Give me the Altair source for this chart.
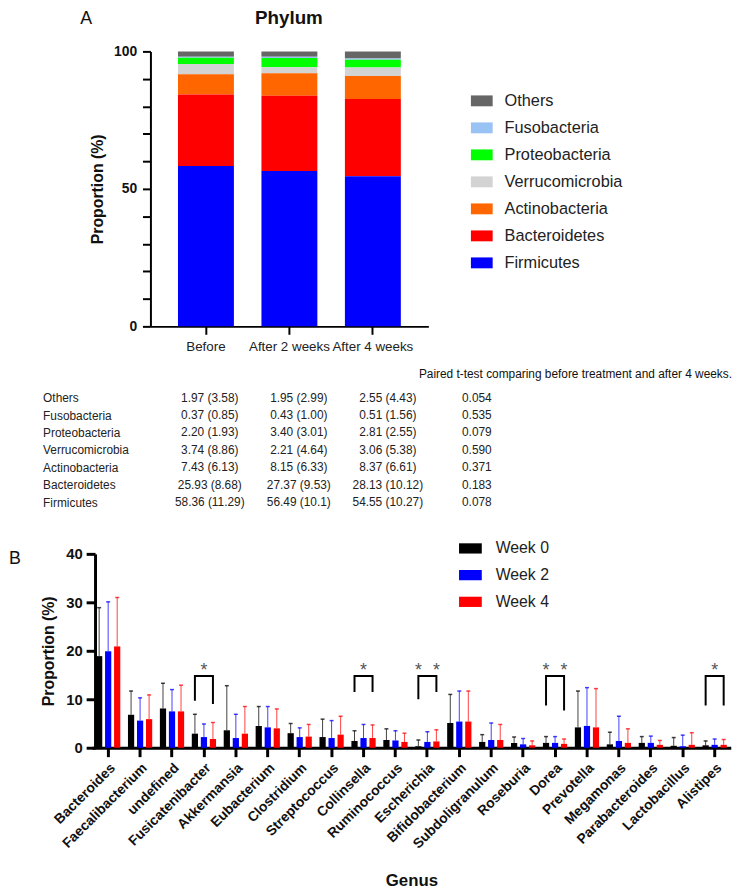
import altair as alt
import pandas as pd

FONT = "Liberation Sans, Arial, Helvetica, sans-serif"

# ---------------- Panel A data ----------------
phyla = ["Others", "Fusobacteria", "Proteobacteria", "Verrucomicrobia",
         "Actinobacteria", "Bacteroidetes", "Firmicutes"]
phylum_colors = ["#666666", "#99C2F5", "#00FF00", "#D3D3D3",
                 "#FF6600", "#FF0000", "#0000FF"]
timepoints = ["Before", "After 2 weeks", "After 4 weeks"]
mean_before = [1.97, 0.37, 2.20, 3.74, 7.43, 25.93, 58.36]
sd_before = ["3.58", "0.85", "1.93", "8.86", "6.13", "8.68", "11.29"]
mean_2w = [1.95, 0.43, 3.40, 2.21, 8.15, 27.37, 56.49]
sd_2w = ["2.99", "1.00", "3.01", "4.64", "6.33", "9.53", "10.1"]
mean_4w = [2.55, 0.51, 2.81, 3.06, 8.37, 28.13, 54.55]
sd_4w = ["4.43", "1.56", "2.55", "5.38", "6.61", "10.12", "10.27"]
p_values = ["0.054", "0.535", "0.079", "0.590", "0.371", "0.183", "0.078"]
table_note = "Paired t-test  comparing before treatment  and after 4 weeks."

# ---------------- Panel B data ----------------
genera = ["Bacteroides", "Faecalibacterium", "undefined", "Fusicatenibacter",
          "Akkermansia", "Eubacterium", "Clostridium", "Streptococcus",
          "Collinsella", "Ruminococcus", "Escherichia", "Bifidobacterium",
          "Subdoligranulum", "Roseburia", "Dorea", "Prevotella", "Megamonas",
          "Parabacteroides", "Lactobacillus", "Alistipes"]
weeks = ["Week 0", "Week 2", "Week 4"]
week_colors = ["#000000", "#0000FF", "#FF0000"]
w0_mean = [18.9, 6.8, 8.1, 2.9, 3.6, 4.5, 3.0, 2.2, 1.4, 1.6, 0.3, 5.1, 1.2, 1.0, 1.0, 4.2, 0.7, 1.0, 0.4, 0.5]
w0_sd = [10.0, 4.9, 5.2, 4.0, 9.2, 4.0, 2.0, 3.7, 2.1, 2.3, 1.3, 5.9, 1.5, 1.2, 1.3, 7.5, 2.5, 1.3, 1.7, 0.9]
w2_mean = [19.9, 5.6, 7.5, 2.2, 2.0, 4.2, 2.2, 2.0, 2.0, 1.5, 1.2, 5.4, 1.6, 0.7, 1.0, 4.5, 1.4, 1.0, 0.3, 0.6]
w2_sd = [10.2, 4.7, 4.5, 2.7, 4.9, 4.3, 1.9, 3.6, 2.8, 2.0, 2.1, 6.3, 3.5, 1.2, 1.3, 7.9, 5.1, 1.4, 2.3, 1.2]
w4_mean = [20.9, 5.9, 7.5, 1.8, 2.9, 4.0, 2.3, 2.7, 2.0, 1.2, 1.3, 5.4, 1.6, 0.5, 0.8, 4.2, 1.0, 0.6, 0.6, 0.6]
w4_sd = [10.1, 5.0, 5.4, 3.4, 5.6, 4.0, 2.5, 3.8, 2.7, 1.8, 2.4, 6.3, 3.2, 0.9, 1.0, 8.0, 2.9, 0.9, 2.5, 1.1]

sig_genera = ["Fusicatenibacter", "Collinsella", "Escherichia", "Dorea", "Alistipes"]
sig_double = [False, False, True, True, False]
bracket_top = [14.8, 14.8, 14.8, 14.8, 14.8]
bracket_left_low = [9.7, 11.5, 10.0, 8.7, 8.7]
bracket_right_low = [9.0, 11.5, 11.5, 7.7, 8.7]

# ---------------- tables ----------------
means = [mean_before, mean_2w, mean_4w]
sds = [sd_before, sd_2w, sd_4w]
n_ph = len(phyla)

df_phy = pd.DataFrame([
    {"time": t, "phylum": phyla[i], "value": means[k][i], "rank": n_ph - i}
    for k, t in enumerate(timepoints) for i in range(n_ph)
])

cols = ["c1", "c2", "c3", "p"]
tab_rows = []
for i in range(n_ph):
    for k in range(3):
        tab_rows.append({"phylum": phyla[i], "col": cols[k],
                         "text": f"{means[k][i]:.2f} ({sds[k][i]})"})
    tab_rows.append({"phylum": phyla[i], "col": "p", "text": p_values[i]})
df_tab = pd.DataFrame(tab_rows)

g_means = [w0_mean, w2_mean, w4_mean]
g_sds = [w0_sd, w2_sd, w4_sd]
df_gen = pd.DataFrame([
    {"genus": g, "week": weeks[k], "mean": g_means[k][j],
     "upper": round(g_means[k][j] + g_sds[k][j], 2)}
    for j, g in enumerate(genera) for k in range(3)
])

br_rows = []
star_rows = []
for b, g in enumerate(sig_genera):
    pts = [("Week 0", bracket_left_low[b]), ("Week 0", bracket_top[b]),
           ("Week 4", bracket_top[b]), ("Week 4", bracket_right_low[b])]
    for o, (w, v) in enumerate(pts):
        br_rows.append({"genus": g, "week": w, "y": v, "order": o, "id": g})
    if sig_double[b]:
        star_rows.append({"genus": g, "week": "Week 0", "y": bracket_top[b], "star": "*"})
        star_rows.append({"genus": g, "week": "Week 4", "y": bracket_top[b], "star": "*"})
    else:
        star_rows.append({"genus": g, "week": "Week 2", "y": bracket_top[b], "star": "*"})
df_br = pd.DataFrame(br_rows)
df_star = pd.DataFrame(star_rows)

# ---------------- Panel A chart ----------------
rect_path_a = "M-1,-0.5H1V0.5H-1Z"
chartA = alt.Chart(df_phy).mark_bar(strokeWidth=0).encode(
    x=alt.X("time:N", sort=timepoints,
            scale=alt.Scale(range=[144, 425], paddingInner=0.33, paddingOuter=0.33),
            axis=alt.Axis(orient="bottom", offset=-569, title=None, labelAngle=0,
                          labelFont=FONT, labelFontSize=13.5, labelColor="#222",
                          labelPadding=5, tickSize=8, tickWidth=2, tickColor="black",
                          domainWidth=2, domainColor="black", grid=False)),
    y=alt.Y("value:Q", stack="zero",
            scale=alt.Scale(domain=[0, 100], range=[317, 39], nice=False),
            axis=alt.Axis(orient="left", offset=-144, values=list(range(0, 101, 10)),
                          labelExpr="datum.value % 50 === 0 ? datum.label : ''",
                          title="Proportion (%)", titleFont=FONT, titleFontSize=16,
                          titleFontWeight="bold", titleColor="#111", titlePadding=8,
                          labelFont=FONT, labelFontSize=14, labelFontWeight="bold",
                          labelColor="#111", labelPadding=6, tickSize=8, tickWidth=2,
                          tickColor="black", domainWidth=2, domainColor="black",
                          grid=False)),
    color=alt.Color("phylum:N", scale=alt.Scale(domain=phyla, range=phylum_colors),
                    legend=alt.Legend(orient="none", legendX=468, legendY=78, title=None,
                                      symbolType=rect_path_a, symbolSize=484,
                                      symbolStrokeWidth=0, symbolOpacity=1,
                                      labelFont=FONT, labelFontSize=16.5,
                                      labelColor="#222", labelOffset=12,
                                      rowPadding=7.3, padding=0)),
    order=alt.Order("rank:Q"),
)

# ---------------- Table ----------------
table = alt.Chart(df_tab).mark_text(font=FONT, fontSize=12, color="#222").encode(
    x=alt.X("col:N", sort=cols,
            scale=alt.Scale(type="point", range=[204, 474], padding=0), axis=None),
    y=alt.Y("phylum:N", sort=phyla,
            scale=alt.Scale(type="point", range=[389, 495], padding=0),
            axis=alt.Axis(orient="left", offset=-35, domain=False, ticks=False,
                          labelAlign="left", labelPadding=0, labelFont=FONT,
                          labelFontSize=12, labelColor="#222", title=None, grid=False)),
    text="text:N",
)

# ---------------- Panel B chart ----------------
xB = alt.X("genus:N", sort=genera,
           scale=alt.Scale(range=[85, 730.7], paddingInner=0.24, paddingOuter=0.124),
           axis=alt.Axis(orient="bottom", offset=-143, title="Genus", labelAngle=-45,
                         labelFont=FONT, labelFontSize=14, labelFontWeight="bold",
                         labelColor="#111", labelPadding=4, tickSize=9, tickWidth=3,
                         tickColor="black", domainWidth=3, domainColor="black",
                         titleFont=FONT, titleFontSize=17, titleFontWeight="bold",
                         titleColor="#111", titlePadding=22, grid=False))
xoB = alt.XOffset("week:N", sort=weeks,
                  scale=alt.Scale(paddingInner=0.31, paddingOuter=0))
yScaleB = alt.Scale(domain=[0, 40], range=[743, 547], nice=False)
yAxisB = alt.Axis(orient="left", offset=-88, values=[0, 10, 20, 30, 40],
                  title="Proportion (%)", titleFont=FONT, titleFontSize=16,
                  titleFontWeight="bold", titleColor="#111", titlePadding=9,
                  labelFont=FONT, labelFontSize=15, labelFontWeight="bold",
                  labelColor="#111", labelPadding=4, tickSize=9, tickWidth=3,
                  tickColor="black", domainWidth=3, domainColor="black", grid=False)
colorB = alt.Color("week:N", scale=alt.Scale(domain=weeks, range=week_colors),
                   legend=alt.Legend(orient="none", legendX=456, legendY=530, title=None,
                                     symbolType="M-1,-0.45H1V0.45H-1Z", symbolSize=529,
                                     symbolStrokeWidth=0, symbolOpacity=1,
                                     labelFont=FONT, labelFontSize=16,
                                     labelColor="#222", labelOffset=14,
                                     rowPadding=7, padding=0))

barsB = alt.Chart(df_gen).mark_bar(strokeWidth=0).encode(
    x=xB, xOffset=xoB, y=alt.Y("mean:Q", scale=yScaleB, axis=yAxisB), color=colorB)
errB = alt.Chart(df_gen).mark_rule(strokeWidth=1, opacity=0.75).encode(
    x=xB, xOffset=xoB, y=alt.Y("mean:Q", scale=yScaleB, axis=yAxisB), y2="upper:Q",
    color=alt.Color("week:N", scale=alt.Scale(domain=weeks, range=week_colors), legend=None))
capB = alt.Chart(df_gen).mark_tick(thickness=1.5, size=4, opacity=0.75).encode(
    x=xB, xOffset=xoB, y=alt.Y("upper:Q", scale=yScaleB, axis=yAxisB),
    color=alt.Color("week:N", scale=alt.Scale(domain=weeks, range=week_colors), legend=None))
brB = alt.Chart(df_br).mark_line(color="black", strokeWidth=2, strokeJoin="miter").encode(
    x=xB, xOffset=xoB, y=alt.Y("y:Q", scale=yScaleB, axis=yAxisB),
    detail="id:N", order="order:Q")
starB = alt.Chart(df_star).mark_text(font=FONT, fontSize=18, color="#555",
                                     baseline="alphabetic").encode(
    x=xB, xOffset=xoB, y=alt.Y("y:Q", scale=yScaleB, axis=yAxisB), text="star:N")

chartB = alt.layer(barsB, errB, capB, brB, starB)

# ---------------- annotations ----------------
def note(txt, x, y, size, weight="normal", align="center", baseline="middle"):
    return alt.Chart(pd.DataFrame({"t": [txt]})).mark_text(
        font=FONT, fontSize=size, fontWeight=weight, align=align,
        baseline=baseline, color="#111").encode(
        x=alt.value(x), y=alt.value(y), text="t:N")

notes = [
    note("A", 79, 6, 18),
    note("Phylum", 284, 5, 19, "bold"),
    note(table_note, 732, 365, 12, align="right"),
    note("B", 1, 552, 18, align="left"),
]

chart = alt.layer(chartA, table, chartB, *notes).resolve_scale(
    x="independent", y="independent", color="independent"
).properties(
    width=735, height=886, autosize=alt.AutoSizeParams(type="none"), padding=0
).configure_view(stroke=None)

chart.save("out.html", embed_options={"renderer": "svg", "actions": False})
